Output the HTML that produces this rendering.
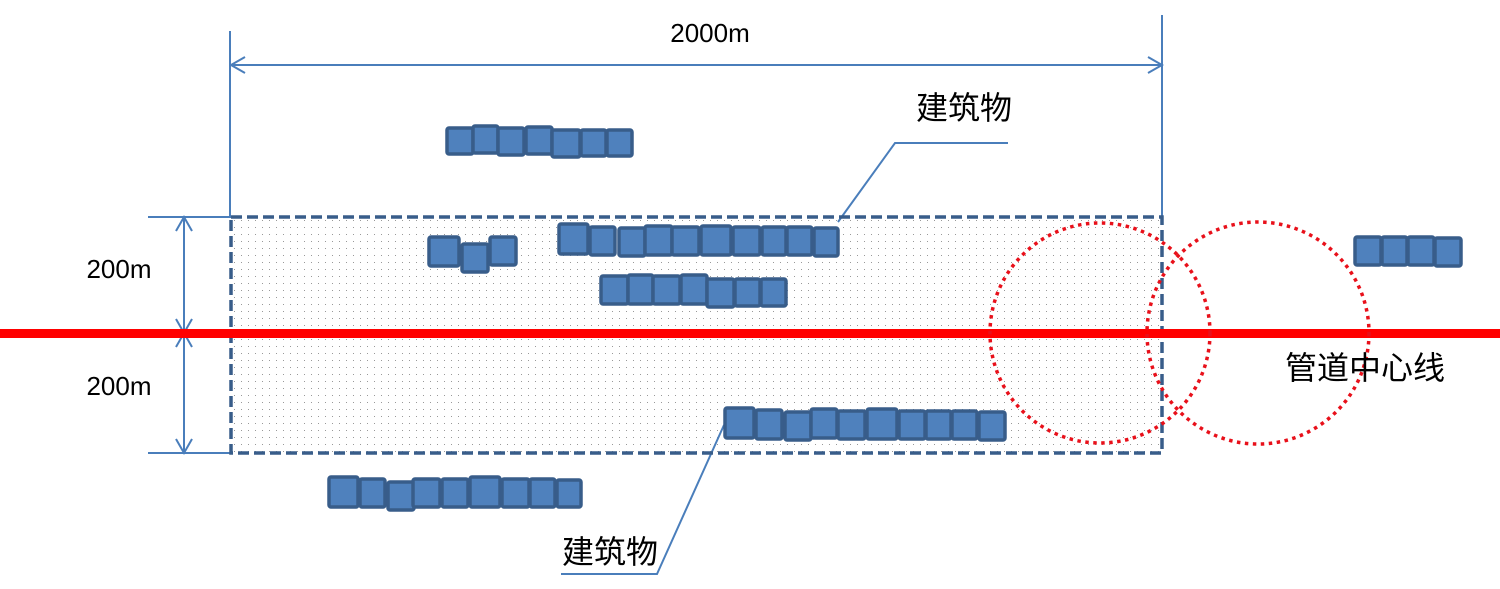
<!DOCTYPE html>
<html><head><meta charset="utf-8"><style>
html,body{margin:0;padding:0;background:#fff;}
svg{display:block}
text{font-family:"Liberation Sans","Noto Sans CJK SC",sans-serif;}
</style></head><body>
<svg width="1500" height="589" viewBox="0 0 1500 589" xmlns="http://www.w3.org/2000/svg">
<defs>
<pattern id="dots" width="7" height="7" patternUnits="userSpaceOnUse">
<rect x="3" y="3" width="1" height="1" fill="#999"/>
</pattern>
</defs>
<rect x="231" y="217" width="931" height="236" fill="url(#dots)"/>
<g stroke="#4a7ebb" stroke-width="2" fill="none">
<line x1="230" y1="31" x2="230" y2="217"/>
<line x1="1162" y1="15" x2="1162" y2="217"/>
<line x1="231" y1="65" x2="1161" y2="65"/>
<polyline points="245,57 231,65 245,73"/>
<polyline points="1148,57 1162,65 1148,73"/>
<line x1="148" y1="217" x2="231" y2="217"/>
<line x1="148" y1="453" x2="231" y2="453"/>
<line x1="184" y1="217" x2="184" y2="453"/>
<polyline points="176,231 184,217 192,231"/>
<polyline points="176,319 184,333 192,319"/>
<polyline points="176,347 184,333 192,347"/>
<polyline points="176,439 184,453 192,439"/>
<polyline points="838,222 895,143 1008,143"/>
<polyline points="724,425 657,574 561,574"/>
</g>
<text x="710" y="42" font-size="26" text-anchor="middle" fill="#000">2000m</text>
<text x="119" y="278" font-size="26" text-anchor="middle" fill="#000">200m</text>
<text x="119" y="395" font-size="26" text-anchor="middle" fill="#000">200m</text>
<rect x="231" y="217" width="931" height="236" fill="none" stroke="#385d8a" stroke-width="3.5" stroke-dasharray="11,5"/>
<g fill="#4f81bd" stroke="#385d8a" stroke-width="3.5">
<rect x="447" y="128" width="26" height="26" rx="2"/>
<rect x="473" y="126" width="25" height="27" rx="2"/>
<rect x="498" y="128" width="26" height="27" rx="2"/>
<rect x="526" y="127" width="26" height="27" rx="2"/>
<rect x="552" y="130" width="28" height="27" rx="2"/>
<rect x="581" y="130" width="25" height="26" rx="2"/>
<rect x="607" y="130" width="25" height="26" rx="2"/>
<rect x="429" y="237" width="30" height="29" rx="2"/>
<rect x="462" y="244" width="26" height="28" rx="2"/>
<rect x="490" y="237" width="26" height="28" rx="2"/>
<rect x="559" y="224" width="29" height="30" rx="2"/>
<rect x="590" y="227" width="25" height="28" rx="2"/>
<rect x="619" y="228" width="26" height="28" rx="2"/>
<rect x="645" y="226" width="27" height="29" rx="2"/>
<rect x="672" y="227" width="27" height="28" rx="2"/>
<rect x="701" y="226" width="30" height="29" rx="2"/>
<rect x="733" y="227" width="27" height="28" rx="2"/>
<rect x="762" y="227" width="24" height="28" rx="2"/>
<rect x="787" y="227" width="25" height="28" rx="2"/>
<rect x="814" y="228" width="24" height="28" rx="2"/>
<rect x="601" y="276" width="27" height="28" rx="2"/>
<rect x="628" y="275" width="25" height="29" rx="2"/>
<rect x="653" y="276" width="27" height="28" rx="2"/>
<rect x="681" y="275" width="26" height="29" rx="2"/>
<rect x="707" y="279" width="27" height="28" rx="2"/>
<rect x="735" y="279" width="25" height="27" rx="2"/>
<rect x="761" y="279" width="25" height="27" rx="2"/>
<rect x="725" y="408" width="29" height="30" rx="2"/>
<rect x="756" y="410" width="26" height="29" rx="2"/>
<rect x="785" y="412" width="26" height="28" rx="2"/>
<rect x="811" y="409" width="26" height="29" rx="2"/>
<rect x="838" y="411" width="27" height="28" rx="2"/>
<rect x="867" y="409" width="30" height="30" rx="2"/>
<rect x="899" y="411" width="26" height="28" rx="2"/>
<rect x="926" y="411" width="25" height="28" rx="2"/>
<rect x="952" y="411" width="25" height="28" rx="2"/>
<rect x="979" y="412" width="26" height="28" rx="2"/>
<rect x="329" y="477" width="29" height="30" rx="2"/>
<rect x="360" y="479" width="25" height="28" rx="2"/>
<rect x="388" y="482" width="26" height="28" rx="2"/>
<rect x="413" y="479" width="27" height="28" rx="2"/>
<rect x="442" y="479" width="26" height="28" rx="2"/>
<rect x="470" y="477" width="30" height="30" rx="2"/>
<rect x="502" y="479" width="27" height="28" rx="2"/>
<rect x="530" y="479" width="25" height="28" rx="2"/>
<rect x="557" y="480" width="24" height="27" rx="2"/>
<rect x="1355" y="237" width="26" height="28" rx="2"/>
<rect x="1382" y="237" width="25" height="28" rx="2"/>
<rect x="1408" y="237" width="26" height="28" rx="2"/>
<rect x="1435" y="238" width="26" height="28" rx="2"/>
</g>
<rect x="0" y="329" width="1500" height="9" fill="#ff0000"/>
<g fill="none" stroke="#e8101a" stroke-width="3.5" stroke-dasharray="3.5,4.5">
<circle cx="1100" cy="333" r="110"/>
<circle cx="1258" cy="333" r="111"/>
</g>
<text x="1285" y="379" font-size="32" fill="#000">管道中心线</text>
<text x="916" y="119" font-size="32" fill="#000">建筑物</text>
<text x="562" y="563" font-size="32" fill="#000">建筑物</text>
</svg>
</body></html>
